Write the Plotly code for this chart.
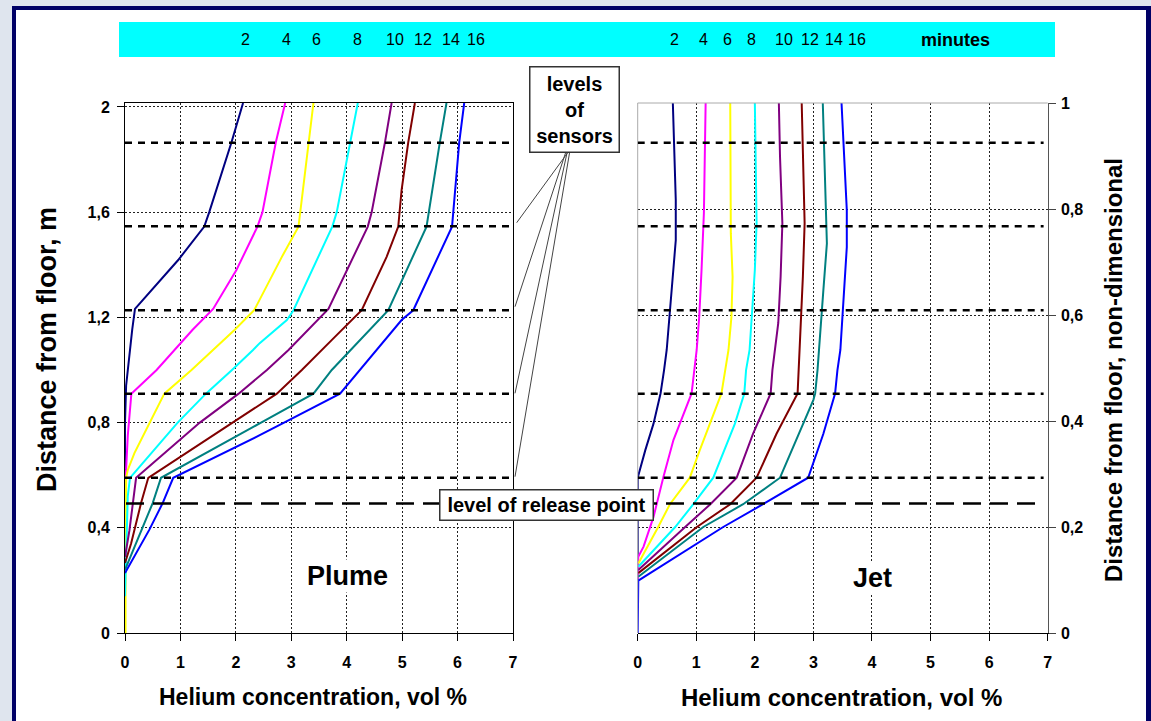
import plotly.graph_objects as go

W, H = 1151, 721

# ---------------- data ----------------
minutes = [2, 4, 6, 8, 10, 12, 14, 16]
colors = ["#000080", "#FF00FF", "#FFFF00", "#00FFFF", "#800080", "#800000", "#008080", "#0000FF"]

conc_ticks = [0, 1, 2, 3, 4, 5, 6, 7]
height_ticks = [0, 0.4, 0.8, 1.2, 1.6, 2.0]
height_ticktext = ["0", "0,4", "0,8", "1,2", "1,6", "2"]
nd_ticks = [0, 0.2, 0.4, 0.6, 0.8, 1.0]
nd_ticktext = ["0", "0,2", "0,4", "0,6", "0,8", "1"]

sensor_levels_m = [1.864, 1.546, 1.227, 0.910, 0.590]
release_level_m = 0.492

# Plume (height in m)
plume_c02 = [2.13, 1.92, 1.52, 1.43, 0.96, 0.18, 0.13, 0.05, 0.02, 0.0, 0.0]
plume_h02 = [2.015, 1.865, 1.60, 1.545, 1.418, 1.232, 1.153, 1.0, 0.94, 0.80, 0.55]
plume_c04 = [2.89, 2.72, 2.48, 2.39, 2.01, 1.59, 1.22, 0.90, 0.57, 0.115, 0.05, 0.02, 0.0, 0.0]
plume_h04 = [2.015, 1.865, 1.60, 1.545, 1.38, 1.232, 1.153, 1.076, 1.0, 0.91, 0.75, 0.62, 0.58, 0.45]
plume_c06 = [3.40, 3.31, 3.16, 3.13, 2.83, 2.33, 1.98, 1.59, 1.20, 0.71, 0.41, 0.17, 0.05, 0.02, 0.01, 0.01]
plume_h06 = [2.015, 1.865, 1.60, 1.545, 1.43, 1.227, 1.153, 1.076, 1.0, 0.91, 0.785, 0.684, 0.62, 0.59, 0.30, 0.0]
plume_c08 = [4.20, 4.06, 3.82, 3.74, 3.04, 2.92, 2.43, 2.31, 1.93, 1.46, 0.95, 0.32, 0.09, 0.05, 0.02, 0.0]
plume_h08 = [2.015, 1.865, 1.60, 1.545, 1.227, 1.19, 1.102, 1.076, 1.0, 0.91, 0.80, 0.646, 0.59, 0.52, 0.33, 0.14]
plume_c10 = [4.81, 4.69, 4.45, 4.38, 3.67, 2.95, 2.56, 2.05, 1.35, 0.20, 0.08, 0.0]
plume_h10 = [2.015, 1.865, 1.60, 1.545, 1.232, 1.076, 1.0, 0.91, 0.80, 0.59, 0.39, 0.29]
plume_c12 = [5.23, 5.11, 4.99, 4.93, 4.72, 4.27, 3.76, 3.19, 2.74, 2.43, 1.95, 0.42, 0.29, 0.11, 0.0]
plume_h12 = [2.015, 1.865, 1.684, 1.545, 1.43, 1.227, 1.12, 1.0, 0.91, 0.867, 0.80, 0.59, 0.494, 0.34, 0.266]
plume_c14 = [5.80, 5.68, 5.44, 4.75, 3.73, 3.40, 2.43, 0.65, 0.50, 0.20, 0.02, 0.0]
plume_h14 = [2.015, 1.865, 1.545, 1.227, 1.0, 0.91, 0.797, 0.59, 0.494, 0.34, 0.254, 0.24]
plume_c16 = [6.12, 6.03, 5.90, 5.56, 5.20, 4.99, 4.24, 3.88, 2.87, 2.44, 0.87, 0.68, 0.44, 0.20, 0.0]
plume_h16 = [2.015, 1.865, 1.545, 1.393, 1.227, 1.19, 1.0, 0.91, 0.80, 0.753, 0.59, 0.494, 0.393, 0.304, 0.228]

# Jet (non-dimensional height)
jet_c02 = [0.60, 0.625, 0.65, 0.65, 0.61, 0.55, 0.495, 0.45, 0.39, 0.27, 0.13, 0.0, 0.0]
jet_h02 = [1.0, 0.892, 0.817, 0.741, 0.685, 0.609, 0.534, 0.496, 0.452, 0.395, 0.345, 0.293, 0.10]
jet_c04 = [1.16, 1.15, 1.13, 1.09, 1.05, 1.007, 0.97, 0.92, 0.61, 0.44, 0.27, 0.10, 0.01, 0.0]
jet_h04 = [1.0, 0.918, 0.792, 0.685, 0.596, 0.534, 0.496, 0.452, 0.364, 0.295, 0.219, 0.163, 0.144, 0.10]
jet_c06 = [1.58, 1.59, 1.62, 1.60, 1.55, 1.50, 1.43, 1.06, 0.89, 0.55, 0.35, 0.01]
jet_h06 = [1.0, 0.754, 0.672, 0.596, 0.534, 0.496, 0.452, 0.345, 0.293, 0.243, 0.2, 0.131]
jet_c08 = [2.00, 2.01, 2.03, 2.00, 1.95, 1.91, 1.85, 1.82, 1.66, 1.29, 0.95, 0.64, 0.01]
jet_h08 = [1.0, 0.892, 0.773, 0.685, 0.596, 0.534, 0.496, 0.452, 0.395, 0.293, 0.243, 0.2, 0.125]
jet_c10 = [2.41, 2.43, 2.47, 2.44, 2.40, 2.34, 2.30, 2.27, 1.97, 1.69, 1.24, 0.81, 0.01]
jet_h10 = [1.0, 0.898, 0.773, 0.672, 0.585, 0.534, 0.496, 0.452, 0.376, 0.293, 0.243, 0.2, 0.119]
jet_c12 = [2.80, 2.82, 2.85, 2.82, 2.78, 2.76, 2.75, 2.73, 2.37, 2.03, 1.58, 1.01, 0.01]
jet_h12 = [1.0, 0.898, 0.773, 0.672, 0.585, 0.534, 0.496, 0.452, 0.376, 0.293, 0.243, 0.2, 0.113]
jet_c14 = [3.16, 3.21, 3.23, 3.17, 3.10, 3.07, 3.03, 3.00, 2.43, 1.80, 1.12, 0.01]
jet_h14 = [1.0, 0.836, 0.735, 0.647, 0.534, 0.496, 0.452, 0.44, 0.293, 0.243, 0.2, 0.106]
jet_c16 = [3.48, 3.52, 3.57, 3.57, 3.52, 3.46, 3.41, 3.37, 3.17, 2.91, 2.14, 1.46, 0.01, 0.0]
jet_h16 = [1.0, 0.898, 0.798, 0.728, 0.647, 0.534, 0.496, 0.452, 0.376, 0.293, 0.243, 0.2, 0.099, 0.0]

plume_series = [(plume_c02, plume_h02), (plume_c04, plume_h04), (plume_c06, plume_h06), (plume_c08, plume_h08),
                (plume_c10, plume_h10), (plume_c12, plume_h12), (plume_c14, plume_h14), (plume_c16, plume_h16)]
jet_series = [(jet_c02, jet_h02), (jet_c04, jet_h04), (jet_c06, jet_h06), (jet_c08, jet_h08),
              (jet_c10, jet_h10), (jet_c12, jet_h12), (jet_c14, jet_h14), (jet_c16, jet_h16)]

# ---------------- layout helpers ----------------
def PX(x):
    return x / W

def PY(y):
    return 1 - y / H

FONT = "Arial, Liberation Sans, sans-serif"

fig = go.Figure()
for (c, h), col, m in zip(plume_series, colors, minutes):
    fig.add_trace(go.Scatter(x=c, y=h, mode="lines", line=dict(color=col, width=2),
                             name=f"{m} min", xaxis="x", yaxis="y", showlegend=False))
for (c, h), col, m in zip(jet_series, colors, minutes):
    fig.add_trace(go.Scatter(x=c, y=h, mode="lines", line=dict(color=col, width=2),
                             name=f"{m} min", xaxis="x2", yaxis="y2", showlegend=False))

ydom = [PY(633), PY(103)]
tickfont = dict(family=FONT, size=16, color="black", weight="bold")
grid = dict(showgrid=True, gridcolor="#222222", gridwidth=1, griddash="2px,2px", zeroline=False,
            automargin=False)

fig.update_layout(
    template="none",
    width=W, height=H, margin=dict(l=0, r=0, t=0, b=0, autoexpand=False),
    paper_bgcolor="#dfe5ee", plot_bgcolor="white",
    xaxis=dict(domain=[PX(125), PX(513)], range=[0, 7], tickvals=conc_ticks, anchor="y",
               ticks="outside", ticklen=7, tickcolor="black", showline=True, linecolor="black",
               linewidth=1, mirror=True, tickfont=tickfont, ticklabelstandoff=8, **grid),
    yaxis=dict(domain=ydom, range=[0, 2.015], tickvals=height_ticks, ticktext=height_ticktext,
               anchor="x", ticks="outside", ticklen=7, tickcolor="black", showline=True,
               linecolor="black", linewidth=1, mirror=True, tickfont=tickfont, ticklabelstandoff=4, **grid),
    xaxis2=dict(domain=[PX(637.7), PX(1047.7)], range=[0, 7], tickvals=conc_ticks, anchor="y2",
                ticks="outside", ticklen=7, tickcolor="black", showline=True, linecolor="black",
                linewidth=1, tickfont=tickfont, ticklabelstandoff=8, **grid),
    yaxis2=dict(domain=ydom, range=[0, 1.0], tickvals=nd_ticks, ticktext=nd_ticktext,
                anchor="x2", side="right", ticks="outside", ticklen=7, tickcolor="#444",
                showline=True, linecolor="#555", linewidth=1, tickfont=tickfont,
                ticklabelstandoff=2, **grid),
)

shapes = []
# frame / background
shapes.append(dict(type="rect", xref="paper", yref="paper", x0=PX(12), x1=PX(1160), y0=PY(740), y1=PY(6),
                   fillcolor="#000066", line=dict(width=0), layer="below"))
shapes.append(dict(type="rect", xref="paper", yref="paper", x0=PX(16), x1=PX(1146), y0=PY(740), y1=PY(10),
                   fillcolor="white", line=dict(width=0), layer="below"))
shapes.append(dict(type="rect", xref="paper", yref="paper", x0=PX(119), x1=PX(1055), y0=PY(57), y1=PY(22),
                   fillcolor="#00FFFF", line=dict(width=0), layer="below"))
# right panel gray left/top frame
shapes.append(dict(type="line", xref="paper", yref="paper", x0=PX(637.7), x1=PX(637.7), y0=PY(633), y1=PY(103),
                   line=dict(color="#aaaaaa", width=1)))
shapes.append(dict(type="line", xref="paper", yref="paper", x0=PX(637.7), x1=PX(1047.7), y0=PY(103), y1=PY(103),
                   line=dict(color="#aaaaaa", width=1)))
# sensor levels
for lv in sensor_levels_m:
    shapes.append(dict(type="line", xref="x", yref="y", x0=0, x1=7, y0=lv, y1=lv,
                       line=dict(color="black", width=2.5, dash="7px,6px")))
    shapes.append(dict(type="line", xref="x2", yref="y", x0=0, x1=6.93, y0=lv, y1=lv,
                       line=dict(color="black", width=2.5, dash="7px,6px")))
# release level
shapes.append(dict(type="line", xref="paper", yref="y", x0=PX(126), x1=PX(1044), y0=release_level_m,
                   y1=release_level_m, line=dict(color="black", width=2.5, dash="18px,9px")))
# pointer lines
for (x0, y0, x1, y1) in [(567.7, 152.7, 516.7, 222.7), (565.5, 153, 515, 306.7),
                         (567, 153, 515, 393.3), (569.5, 153, 515, 476.7)]:
    shapes.append(dict(type="line", xref="paper", yref="paper", x0=PX(x0), y0=PY(y0), x1=PX(x1), y1=PY(y1),
                       line=dict(color="#444444", width=1)))
fig.update_layout(shapes=shapes)

ann = []
def add_text(x, y, text, size, bold=False, **kw):
    d = dict(x=PX(x), y=PY(y), xref="paper", yref="paper", text=text, showarrow=False,
             xanchor="center", yanchor="middle",
             font=dict(family=FONT, size=size, color="black", weight="bold" if bold else "normal"))
    d.update(kw)
    ann.append(d)

banner_left_x = [245, 286, 316, 357, 395, 423, 451, 476]
banner_right_x = [674, 703, 727, 751, 784, 810, 834, 857]
for m, x in zip(minutes, banner_left_x):
    add_text(x, 40, str(m), 16)
for m, x in zip(minutes, banner_right_x):
    add_text(x, 40, str(m), 16)
add_text(955, 40, "minutes", 18, bold=True)

add_text(574.6, 110, "levels<br>of<br>sensors", 20, bold=True, bgcolor="white", bordercolor="#333333",
         borderwidth=1.5, borderpad=1, width=86, height=82)
add_text(546.5, 505, "level of release point", 20, bold=True, bgcolor="white", bordercolor="#333333",
         borderwidth=1.5, borderpad=1, width=210, height=27)
add_text(347, 576, "Plume", 27, bold=True, bgcolor="white")
add_text(872, 578, "Jet", 27, bold=True, bgcolor="white")

add_text(313, 697, "Helium concentration, vol %", 23, bold=True)
add_text(842, 697, "Helium concentration, vol %", 24, bold=True)
add_text(47, 350, "Distance from floor, m", 27, bold=True, textangle=-90)
add_text(1113, 370, "Distance from floor, non-dimensional", 24, bold=True, textangle=-90)

fig.update_layout(annotations=ann)

fig.write_html("out.html", config={"displayModeBar": False},
               post_script="document.body.style.margin='0';document.body.style.overflow='hidden';")
